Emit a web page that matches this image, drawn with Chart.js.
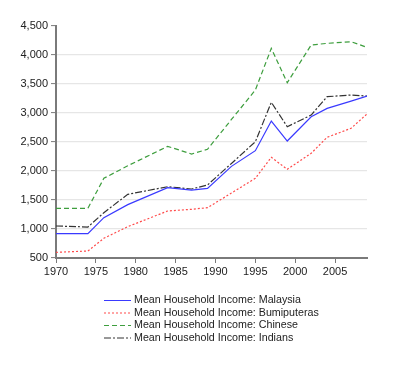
<!DOCTYPE html>
<html>
<head>
<meta charset="utf-8">
<script src="https://cdn.jsdelivr.net/npm/chart.js@4.4.1/dist/chart.umd.min.js"></script>
<style>
html,body{margin:0;padding:0;background:#fff;}
#wrap{width:400px;height:369px;position:relative;}
</style>
</head>
<body>
<div id="wrap"><canvas id="c" width="400" height="369"></canvas></div>
<script>
const years = [1970,1974,1976,1979,1984,1987,1989,1992,1995,1997,1999,2002,2004,2007,2009];
const malaysia = [919,919,1195,1420,1712,1672,1701,2080,2350,2862,2517,2936,3080,3205,3293];
const bumiputeras = [598,621,840,1040,1310,1340,1367,1620,1874,2236,2029,2305,2581,2736,2983];
const chinese = [1357,1357,1874,2090,2425,2293,2374,2888,3396,4115,3522,4172,4201,4229,4132];
const indians = [1052,1034,1281,1598,1729,1690,1759,2130,2505,3184,2764,2965,3281,3310,3293];
const seriesLabels = [
  'Mean Household Income: Malaysia',
  'Mean Household Income: Bumiputeras',
  'Mean Household Income: Chinese',
  'Mean Household Income: Indians'
];
const yMin = 500, yMax = 4500, yStep = 500;
const xMin = 1970, xMax = 2009, xStep = 5;

const FONT = '"Liberation Sans", Arial, sans-serif';
const toPts = arr => arr.map((v,i)=>({x:years[i], y:v}));

const styles = [
  {color:'#3a3aff', dash:[]},
  {color:'#ff4a4a', dash:[2,2]},
  {color:'#3e9e3e', dash:[5,3]},
  {color:'#333333', dash:[7,2,2,2]}
];
const allSeries = [malaysia, bumiputeras, chinese, indians];

const legendPlugin = {
  id:'customLegend',
  afterDraw(chart){
    const ctx = chart.ctx;
    ctx.save();
    ctx.font = '10.7px ' + FONT;
    ctx.textBaseline = 'middle';
    ctx.fillStyle = '#222';
    chart.data.datasets.forEach((ds,i)=>{
      const y = 300.5 + i*12.5;
      ctx.beginPath();
      ctx.strokeStyle = ds.borderColor;
      ctx.lineWidth = 1;
      ctx.setLineDash(ds.borderDash || []);
      ctx.moveTo(104, y);
      ctx.lineTo(131, y);
      ctx.stroke();
      ctx.setLineDash([]);
      ctx.fillText(ds.label, 134, y);
    });
    ctx.restore();
  }
};

new Chart(document.getElementById('c'), {
  type:'line',
  data:{
    datasets: allSeries.map((s,i)=>({
      label: seriesLabels[i],
      data: toPts(s),
      borderColor: styles[i].color,
      backgroundColor: styles[i].color,
      borderDash: styles[i].dash,
      borderWidth: 1.2,
      pointRadius: 0,
      tension: 0,
      fill: false
    }))
  },
  options:{
    responsive:false,
    animation:false,
    layout:{padding:{top:26,right:33,bottom:0,left:0}},
    plugins:{legend:{display:false}, tooltip:{enabled:false}},
    scales:{
      x:{
        type:'linear', min:xMin, max:xMax,
        afterFit(s){ s.height = 111; },
        border:{display:true, color:'#7a7a7a', width:2},
        grid:{drawOnChartArea:false, drawTicks:true, tickLength:5, tickColor:'#7a7a7a', tickWidth:1},
        ticks:{stepSize:xStep, includeBounds:false, autoSkip:false, maxRotation:0, padding:2,
          color:'#222', font:{family:FONT, size:11},
          callback:v=>String(v)}
      },
      y:{
        type:'linear', min:yMin, max:yMax,
        afterFit(s){ s.width = 56; },
        border:{display:true, color:'#7a7a7a', width:2},
        grid:{drawTicks:true, tickLength:5, tickColor:'#7a7a7a', tickWidth:1,
          color:ctx=> (ctx.tick && (ctx.tick.value===yMax || ctx.tick.value===yMin)) ? 'rgba(0,0,0,0)' : '#e6e6e6',
          lineWidth:1.2},
        ticks:{stepSize:yStep, padding:3, color:'#222', font:{family:FONT, size:11},
          callback:v=>v.toLocaleString('en-US')}
      }
    }
  },
  plugins:[legendPlugin]
});
</script>
</body>
</html>
